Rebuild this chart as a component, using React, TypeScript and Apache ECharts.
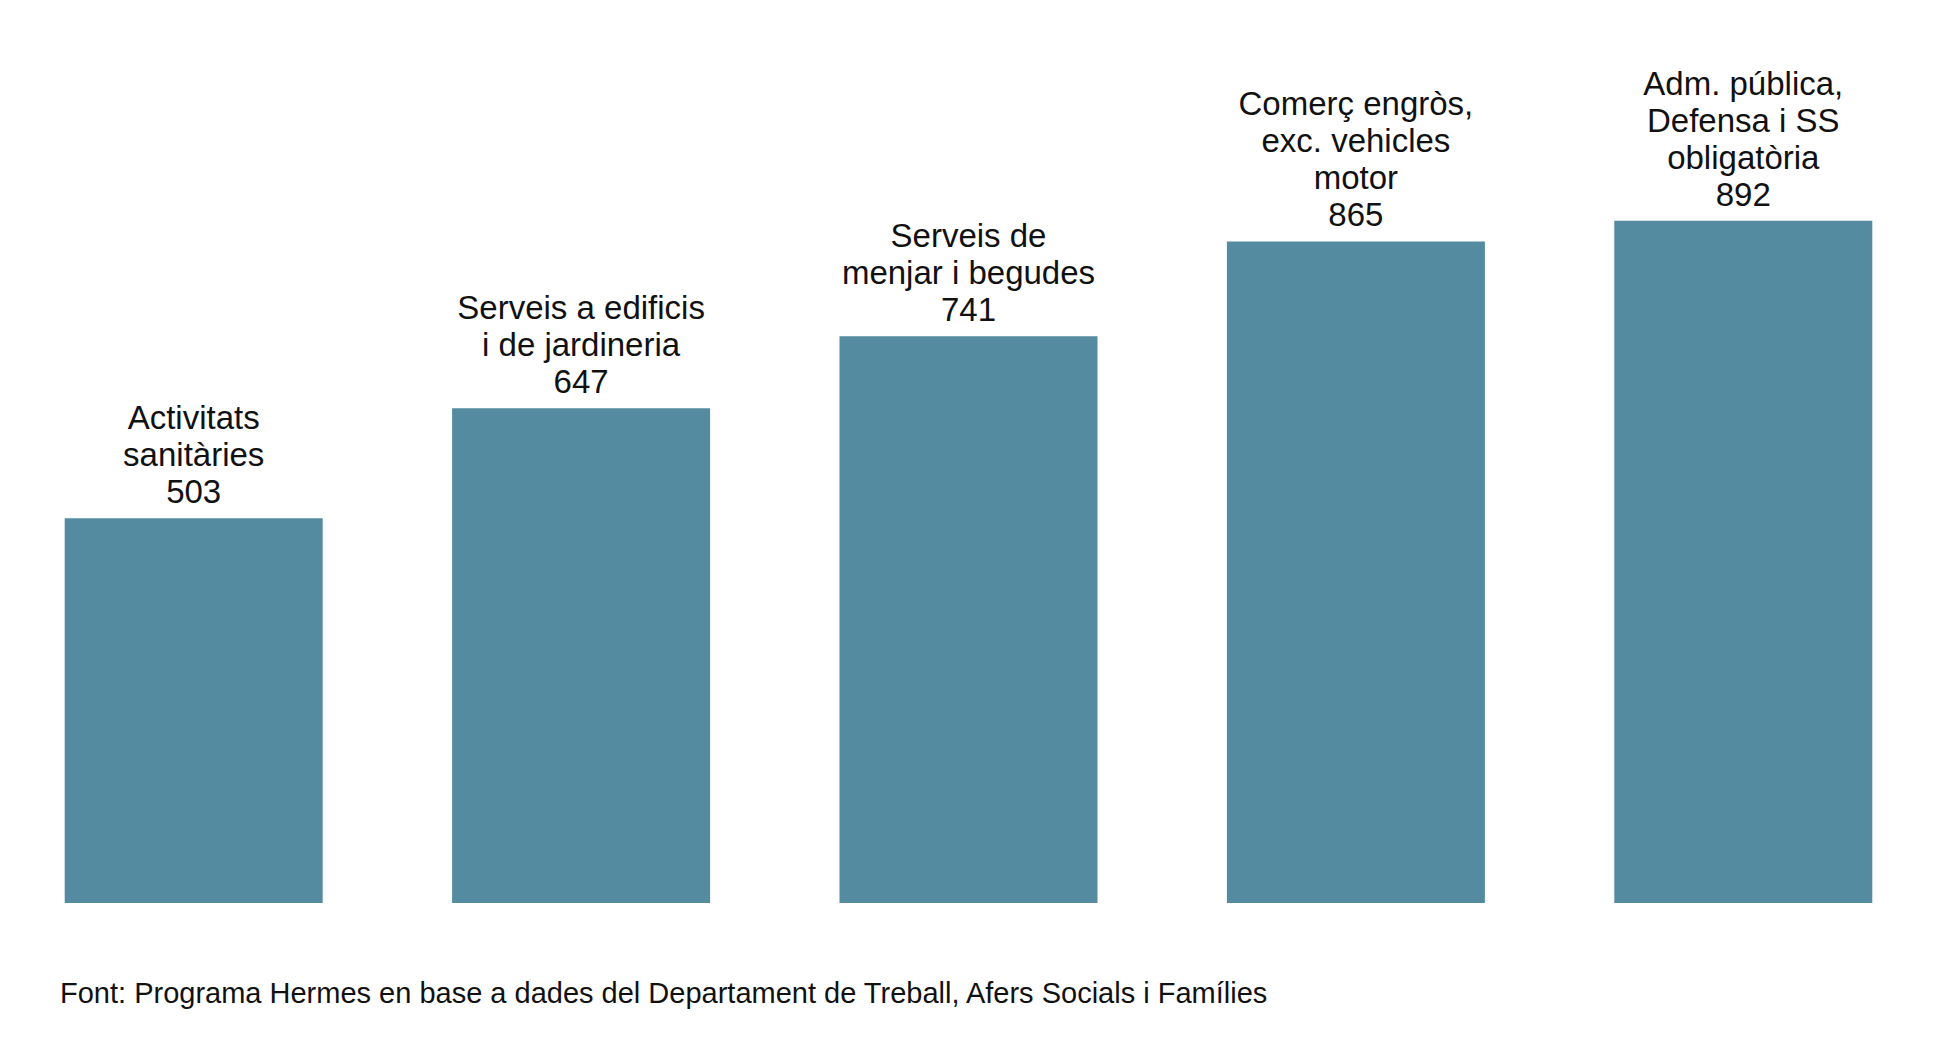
import { useEffect, useRef } from 'react';
import * as echarts from 'echarts';

const categories = [
  'Activitats\nsanitàries',
  'Serveis a edificis\ni de jardineria',
  'Serveis de\nmenjar i begudes',
  'Comerç engròs,\nexc. vehicles\nmotor',
  'Adm. pública,\nDefensa i SS\nobligatòria'
];
const values = [503, 647, 741, 865, 892];
const source = 'Font: Programa Hermes en base a dades del Departament de Treball, Afers Socials i Famílies';

export default function App() {
  const chartRef = useRef<HTMLDivElement>(null);

  useEffect(() => {
    document.body.style.margin = '0';
    if (!chartRef.current) return;
    const chart = echarts.init(chartRef.current, null, { renderer: 'svg' });
    const font = 'Liberation Sans, Arial, sans-serif';
    chart.setOption({
      animation: false,
      grid: { left: -7, right: -18, top: 100, bottom: 160 },
      xAxis: {
        type: 'category',
        data: categories,
        axisLine: { show: false },
        axisTick: { show: false },
        axisLabel: { show: false }
      },
      yAxis: { type: 'value', min: 0, max: 1050, show: false },
      series: [
        {
          type: 'bar',
          data: values,
          barWidth: 258,
          itemStyle: { color: '#548ba0' },
          label: {
            show: true,
            position: 'top',
            distance: 8,
            color: '#111',
            fontFamily: font,
            fontSize: 33,
            lineHeight: 37,
            align: 'center',
            formatter: (p: any) => `${categories[p.dataIndex]}\n${p.value}`
          }
        }
      ],
      graphic: [
        {
          type: 'text',
          left: 60,
          top: 978,
          style: { text: source, fontFamily: font, fontSize: 29, fill: '#111' }
        }
      ]
    });
    return () => chart.dispose();
  }, []);

  return <div ref={chartRef} style={{ width: 1937, height: 1063, background: '#fff' }} />;
}
